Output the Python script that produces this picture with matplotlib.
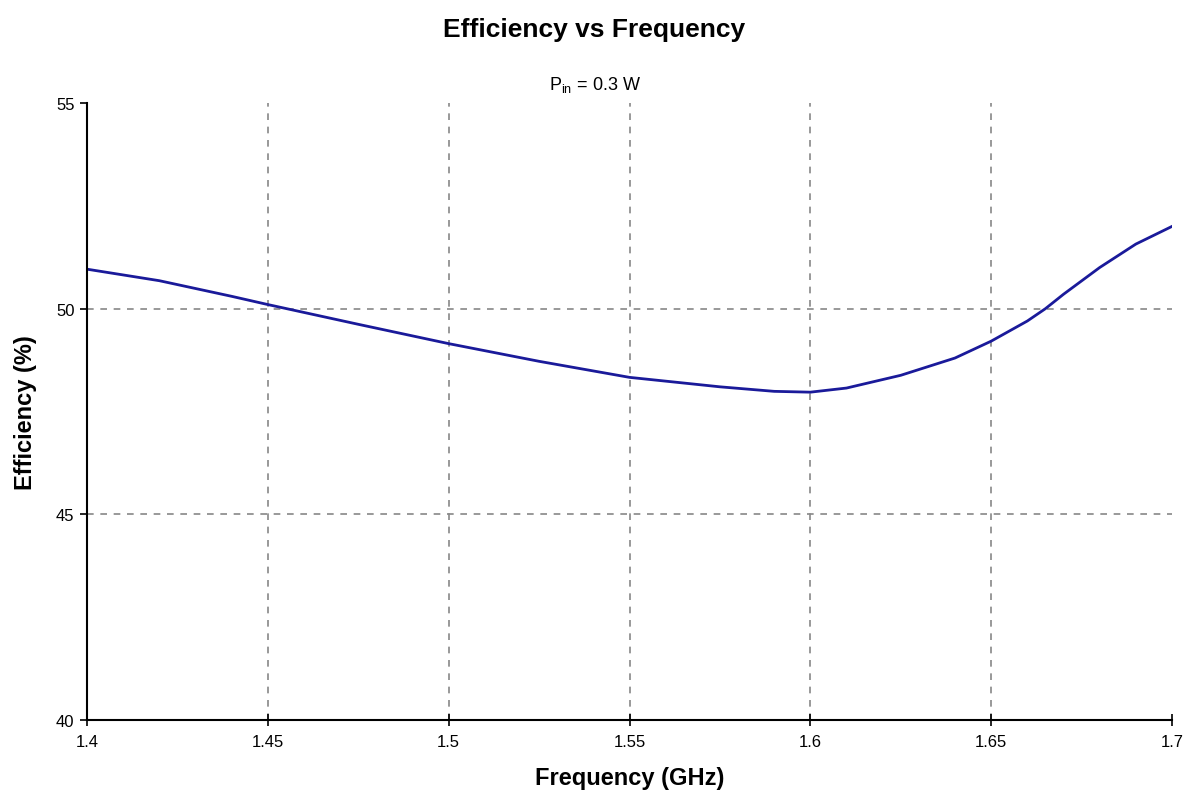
import matplotlib
matplotlib.use("Agg")
import matplotlib.pyplot as plt

freq = [1.40, 1.42, 1.44, 1.45, 1.475, 1.50, 1.525, 1.55, 1.575, 1.59, 1.60,
        1.61, 1.625, 1.64, 1.65, 1.66, 1.665, 1.67, 1.68, 1.69, 1.70]
eff = [50.96, 50.68, 50.3, 50.1, 49.62, 49.15, 48.72, 48.33, 48.1, 47.99, 47.97,
       48.07, 48.38, 48.8, 49.21, 49.7, 50.0, 50.35, 51.0, 51.57, 52.0]
xticks = [1.4, 1.45, 1.5, 1.55, 1.6, 1.65, 1.7]
xticklabels = ["1.4", "1.45", "1.5", "1.55", "1.6", "1.65", "1.7"]
yticks = [40, 45, 50, 55]

plt.rcParams['font.family'] = ['Liberation Sans', 'DejaVu Sans']
fig = plt.figure(figsize=(11.89, 8.04), dpi=100)
ax = fig.add_axes([87/1189, 1-721/804, (1172-87)/1189, (721-104)/804])
ax.plot(freq, eff, color='#1a1a9a', lw=2)
ax.set_xlim(1.4, 1.7)
ax.set_ylim(40, 55)
ax.set_xticks(xticks)
ax.set_xticklabels(xticklabels)
ax.set_yticks(yticks)
ax.grid(True, ls=(0, (4, 4)), color='#888888', lw=1.2)
ax.get_ygridlines()[-1].set_visible(False)
ax.get_xgridlines()[-1].set_visible(False)
for s in ['top', 'right']:
    ax.spines[s].set_visible(False)
for s in ['left', 'bottom']:
    ax.spines[s].set_linewidth(1.5)
ax.tick_params(axis='x', direction='inout', length=8, width=1.2, labelsize=12, pad=6)
ax.tick_params(axis='y', direction='out', length=5, width=1.2, labelsize=12, pad=4)
ax.set_xlabel('Frequency (GHz)', fontsize=17, fontweight='bold', labelpad=12)
ax.set_ylabel('Efficiency (%)', fontsize=17, fontweight='bold', labelpad=14)
fig.text(0.5, 1-30/804, 'Efficiency vs Frequency', ha='center', va='center',
         fontsize=19, fontweight='bold')
fig.text(0.5, 1-85/804, r'P$_{\mathregular{in}}$ = 0.3 W', ha='center', va='center', fontsize=13)
fig.savefig('out.png', dpi=100)
